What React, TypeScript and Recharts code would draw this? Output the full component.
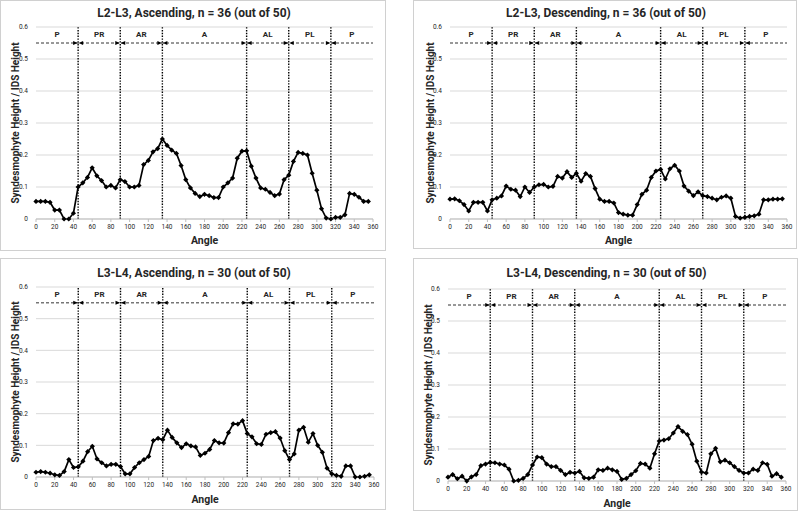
import React from "react";
import {
  CartesianGrid,
  Line,
  LineChart,
  ReferenceDot,
  ReferenceLine,
  XAxis,
  YAxis,
} from "recharts";

const ANGLES = [
  0, 5, 10, 15, 20, 25, 30, 35, 40, 45, 50, 55, 60, 65, 70, 75, 80, 85, 90, 95,
  100, 105, 110, 115, 120, 125, 130, 135, 140, 145, 150, 155, 160, 165, 170,
  175, 180, 185, 190, 195, 200, 205, 210, 215, 220, 225, 230, 235, 240, 245,
  250, 255, 260, 265, 270, 275, 280, 285, 290, 295, 300, 305, 310, 315, 320,
  325, 330, 335, 340, 345, 350, 355,
];

const L23_ASC = [
  0.055, 0.055, 0.055, 0.052, 0.028, 0.028, 0.0, 0.0, 0.018, 0.1, 0.113, 0.13,
  0.16, 0.135, 0.12, 0.1, 0.105, 0.097, 0.123, 0.117, 0.1, 0.1, 0.105, 0.17,
  0.183, 0.21, 0.22, 0.25, 0.23, 0.215, 0.205, 0.167, 0.123, 0.097, 0.08, 0.07,
  0.077, 0.073, 0.067, 0.067, 0.1, 0.113, 0.128, 0.19, 0.212, 0.213, 0.165,
  0.128, 0.097, 0.093, 0.083, 0.073, 0.078, 0.123, 0.137, 0.18, 0.208, 0.205,
  0.2, 0.143, 0.09, 0.032, 0.003, 0.0, 0.005, 0.005, 0.013, 0.08, 0.077, 0.068,
  0.055, 0.055,
];

const L23_DESC = [
  0.062, 0.063, 0.057, 0.045, 0.025, 0.052, 0.052, 0.052, 0.025, 0.06, 0.065,
  0.072, 0.103, 0.093, 0.09, 0.07, 0.1, 0.083, 0.1, 0.107, 0.108, 0.1, 0.102,
  0.133, 0.128, 0.148, 0.13, 0.143, 0.118, 0.142, 0.133, 0.095, 0.062, 0.055,
  0.055, 0.05, 0.02, 0.015, 0.012, 0.012, 0.045, 0.077, 0.09, 0.13, 0.15, 0.155,
  0.125, 0.157, 0.168, 0.15, 0.103, 0.087, 0.073, 0.085, 0.073, 0.07, 0.065,
  0.06, 0.068, 0.072, 0.065, 0.008, 0.003, 0.005, 0.008, 0.01, 0.015, 0.06,
  0.06, 0.062, 0.062, 0.063,
];

const L34_ASC = [
  0.015, 0.017, 0.015, 0.012, 0.007, 0.005, 0.017, 0.055, 0.03, 0.032, 0.05,
  0.08, 0.097, 0.057, 0.045, 0.035, 0.04, 0.04, 0.033, 0.01, 0.01, 0.03, 0.045,
  0.055, 0.065, 0.115, 0.122, 0.118, 0.148, 0.125, 0.108, 0.093, 0.105, 0.098,
  0.095, 0.068, 0.075, 0.087, 0.115, 0.108, 0.107, 0.14, 0.168, 0.167, 0.178,
  0.137, 0.127, 0.105, 0.103, 0.135, 0.14, 0.143, 0.123, 0.083, 0.055, 0.073,
  0.148, 0.157, 0.11, 0.137, 0.1, 0.078, 0.028, 0.01, 0.005, 0.002, 0.035,
  0.035, 0.0, 0.0, 0.002, 0.007,
];

const L34_DESC = [
  0.012, 0.02, 0.007, 0.015, 0.0, 0.013, 0.02, 0.048, 0.053, 0.058, 0.057,
  0.053, 0.05, 0.037, 0.0, 0.002, 0.008, 0.02, 0.05, 0.075, 0.073, 0.053, 0.045,
  0.045, 0.033, 0.02, 0.027, 0.025, 0.03, 0.01, 0.008, 0.012, 0.035, 0.033,
  0.04, 0.035, 0.03, 0.005, 0.008, 0.02, 0.032, 0.055, 0.053, 0.04, 0.085,
  0.125, 0.128, 0.132, 0.15, 0.17, 0.155, 0.145, 0.115, 0.062, 0.028, 0.025,
  0.085, 0.102, 0.06, 0.065, 0.057, 0.045, 0.033, 0.025, 0.025, 0.037, 0.033,
  0.057, 0.052, 0.015, 0.023, 0.012,
];

const X_TICKS = [
  0, 20, 40, 60, 80, 100, 120, 140, 160, 180, 200, 220, 240, 260, 280, 300, 320,
  340, 360,
];
const Y_TICKS = [0, 0.1, 0.2, 0.3, 0.4, 0.5, 0.6];

const BOUNDARIES = [45, 90, 135, 225, 270, 315];
const REGION_NAMES = ["P", "PR", "AR", "A", "AL", "PL", "P"];
const REGION_CENTERS = [22.5, 67.5, 112.5, 180, 247.5, 292.5, 337.5];
const REGION_LINE_Y = 0.55;
const REGION_LABEL_Y = 0.577;

const FONT = "'Roboto', 'Liberation Sans', sans-serif";
const TEXT = "#262626";

const PANELS = [
  {
    title: "L2-L3, Ascending, n = 36 (out of 50)",
    values: L23_ASC,
    left: 0, top: 0, w: 386, h: 251,
    plot: { l: 36, r: 373, t: 27, b: 219 },
    titleY: 13, ylabelX: 15, angleY: 240,
  },
  {
    title: "L2-L3, Descending, n = 36 (out of 50)",
    values: L23_DESC,
    left: 413, top: 0, w: 384, h: 249,
    plot: { l: 37, r: 374, t: 27, b: 219 },
    titleY: 13, ylabelX: 17, angleY: 240,
  },
  {
    title: "L3-L4, Ascending, n = 30 (out of 50)",
    values: L34_ASC,
    left: 0, top: 258, w: 386, h: 252,
    plot: { l: 36, r: 374, t: 29, b: 219 },
    titleY: 15, ylabelX: 15, angleY: 241,
  },
  {
    title: "L3-L4, Descending, n = 30 (out of 50)",
    values: L34_DESC,
    left: 413, top: 258, w: 385, h: 253,
    plot: { l: 35, r: 373, t: 31, b: 223 },
    titleY: 15, ylabelX: 15, angleY: 245,
  },
];

function Diamond(props: any) {
  const { cx, cy, index } = props;
  if (cx == null || cy == null) return <g key={`d-${index}`} />;
  const s = 2.6;
  return (
    <path
      key={`d-${index}`}
      d={`M${cx},${cy - s}L${cx + s},${cy}L${cx},${cy + s}L${cx - s},${cy}Z`}
      fill="#000"
    />
  );
}

function ArrowPair(props: any) {
  const { cx, cy } = props;
  return (
    <g>
      <path d={`M${cx - 5},${cy - 2}L${cx - 0.5},${cy}L${cx - 5},${cy + 2}Z`} fill="#000" />
      <path d={`M${cx + 5},${cy - 2}L${cx + 0.5},${cy}L${cx + 5},${cy + 2}Z`} fill="#000" />
    </g>
  );
}

function RegionLabel(name: string) {
  return (props: any) => (
    <text
      x={props.cx}
      y={props.cy}
      textAnchor="middle"
      dominantBaseline="central"
      fontSize={8}
      fontWeight="bold"
      fontFamily={FONT}
      fill={TEXT}
    >
      {name}
    </text>
  );
}

function AngleLabel(props: any) {
  const { viewBox, y0 } = props;
  const cx = viewBox.x + viewBox.width / 2;
  return (
    <text
      x={cx}
      y={y0}
      textAnchor="middle"
      dominantBaseline="central"
      fontSize={10.5}
      fontWeight="bold"
      fontFamily={FONT}
      fill={TEXT}
    >
      Angle
    </text>
  );
}

function Panel({ p }: { p: (typeof PANELS)[number] }) {
  const data = ANGLES.map((angle, i) => ({ angle, value: p.values[i] }));
  const xAxisHeight = p.h - p.plot.b;
  return (
    <div
      style={{
        position: "absolute",
        left: p.left,
        top: p.top,
        width: p.w,
        height: p.h,
        border: "1px solid #d0d0d0",
        boxSizing: "border-box",
        background: "#fff",
      }}
    >
      <div
        style={{
          position: "absolute",
          left: 0,
          width: p.w,
          top: p.titleY - 8,
          textAlign: "center",
          fontFamily: FONT,
          fontWeight: "bold",
          fontSize: 12,
          lineHeight: "15px",
          color: TEXT,
        }}
      >
        {p.title}
      </div>
      <div style={{ position: "absolute", left: -1, top: -1 }}>
        <LineChart
          width={p.w}
          height={p.h}
          data={data}
          margin={{ top: p.plot.t, right: p.w - p.plot.r, left: 0, bottom: 0 }}
        >
          <CartesianGrid vertical={false} stroke="#d9d9d9" />
          <XAxis
            dataKey="angle"
            type="number"
            domain={[0, 360]}
            ticks={X_TICKS}
            height={xAxisHeight}
            interval={0}
            tick={{ fontSize: 6.5, fill: TEXT, fontFamily: FONT }}
            tickSize={3}
            stroke="#bfbfbf"
            label={<AngleLabel y0={p.angleY} />}
          />
          <YAxis
            type="number"
            domain={[0, 0.6]}
            ticks={Y_TICKS}
            width={p.plot.l}
            axisLine={false}
            tickLine={false}
            tickMargin={2}
            tick={{ fontSize: 6.5, fill: TEXT, fontFamily: FONT }}
            label={{
              value: "Syndesmophyte Height / IDS Height",
              angle: -90,
              position: "center",
              dx: p.ylabelX - p.plot.l / 2,
              style: { fontSize: 10, fontWeight: "bold", fill: TEXT, fontFamily: FONT },
            }}
          />
          {BOUNDARIES.map((b) => (
            <ReferenceLine
              key={`v-${b}`}
              x={b}
              stroke="#000"
              strokeWidth={1.4}
              strokeDasharray="1.4 1.4"
            />
          ))}
          <ReferenceLine
            y={REGION_LINE_Y}
            stroke="#333"
            strokeWidth={1}
            strokeDasharray="3 2"
          />
          {BOUNDARIES.map((b) => (
            <ReferenceDot
              key={`a-${b}`}
              x={b}
              y={REGION_LINE_Y}
              shape={ArrowPair}
            />
          ))}
          {REGION_NAMES.map((name, i) => (
            <ReferenceDot
              key={`r-${i}`}
              x={REGION_CENTERS[i]}
              y={REGION_LABEL_Y}
              shape={RegionLabel(name)}
            />
          ))}
          <Line
            type="linear"
            dataKey="value"
            stroke="#000"
            strokeWidth={1.7}
            dot={Diamond}
            activeDot={false}
            isAnimationActive={false}
          />
        </LineChart>
      </div>
    </div>
  );
}

export default function App() {
  return (
    <div
      style={{
        position: "absolute",
        left: 0,
        top: 0,
        width: 800,
        height: 512,
        background: "#fff",
        overflow: "hidden",
      }}
    >
      {PANELS.map((p, i) => (
        <Panel key={i} p={p} />
      ))}
    </div>
  );
}
